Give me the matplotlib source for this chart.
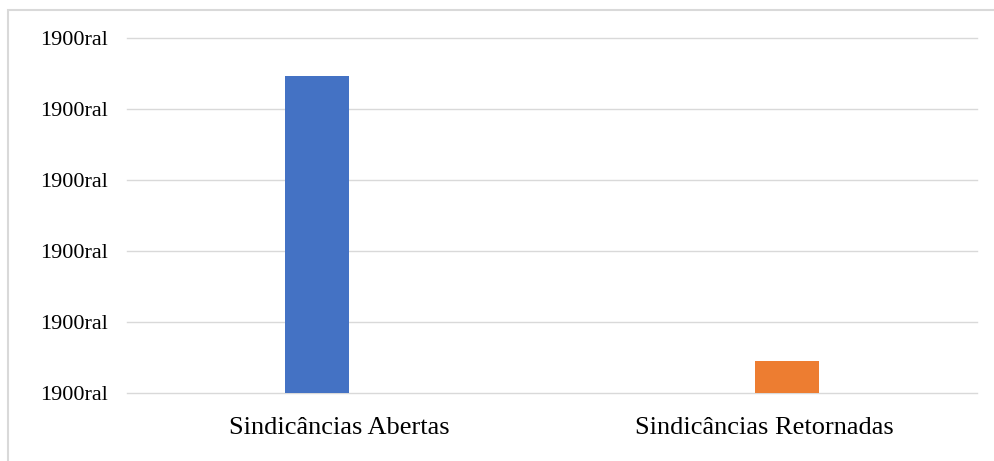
import matplotlib.pyplot as plt
from matplotlib.patches import Rectangle
from matplotlib.ticker import FuncFormatter
import numpy as np

categories = ['Sindicâncias Abertas', 'Sindicâncias Retornadas']
abertas = [4.46, 0]
retornadas = [0, 0.45]
tick_label = '1900ral'

plt.rcParams['font.family'] = ['Liberation Serif', 'DejaVu Serif']

fig = plt.figure(figsize=(9.94, 4.61), dpi=100)
ax = fig.add_axes([0.1278, 0.1475, 0.8551, 0.7701])

x = np.arange(len(categories))
w = 0.15
off = 0.053
ax.bar(x - off, abertas, width=w, color='#4472C4', zorder=3)
ax.bar(x + off, retornadas, width=w, color='#ED7D31', zorder=3)

ax.set_xlim(-0.5, 1.5)
ax.set_ylim(0, 5)
ax.set_yticks(range(6))
ax.yaxis.set_major_formatter(FuncFormatter(lambda v, p: tick_label))
ax.set_xticks(x)
ax.set_xticklabels(categories, fontsize=19)
ax.tick_params(axis='y', labelsize=16, length=0, pad=14)
ax.tick_params(axis='x', length=0, pad=17)
ax.grid(axis='y', color='#d9d9d9', linewidth=1.0, zorder=0)
for gl in ax.get_ygridlines():
    gl.set_clip_on(False)
for s in ax.spines.values():
    s.set_visible(False)

# chart area border (light gray), only top and left visible
fig.patches.append(Rectangle((8 / 994, -0.1), 1.2, 1 - 10 / 461 + 0.1,
                             transform=fig.transFigure, fill=False,
                             edgecolor='#d9d9d9', linewidth=1.5))

fig.savefig('out.png', dpi=100)
